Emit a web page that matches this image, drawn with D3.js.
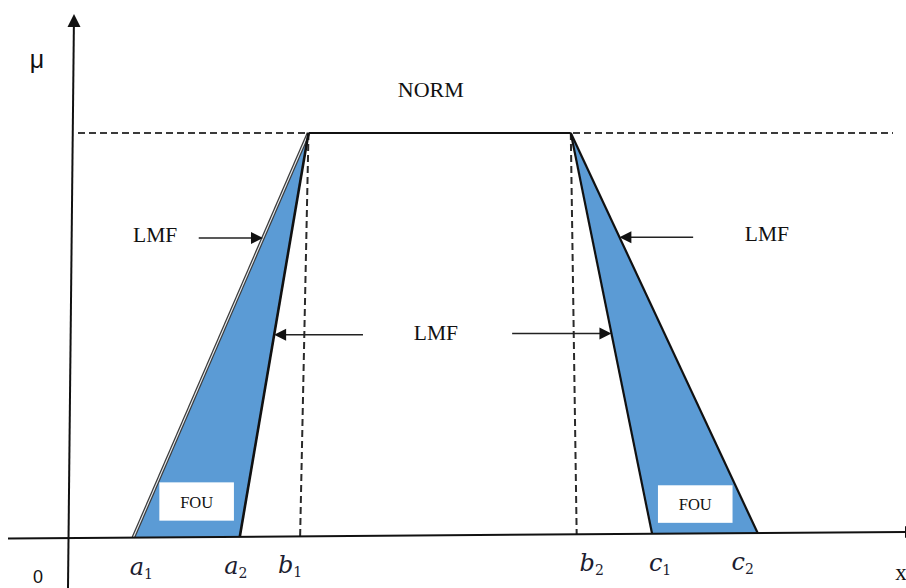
<!DOCTYPE html>
<html>
<head>
<meta charset="utf-8">
<script src="https://cdn.jsdelivr.net/npm/d3@7"></script>
<style>
  html, body { margin: 0; padding: 0; background: #fff; }
  svg { display: block; }
</style>
</head>
<body>
<svg id="chart" width="906" height="588"></svg>
<script>
// Interval type-2 trapezoidal fuzzy number: the shaded regions are the
// footprint of uncertainty (FOU) between the upper and lower membership functions.

// x positions (domain units) where the membership reaches 1 (top of b1 / b2)
const coreTop = [2.87, 6.00];
// where the dashed drop lines from the core meet the x axis (b1, b2)
const coreFoot = [2.77, 6.07];
// support ends of the upper membership function (a1, c2)
const upperFoot = [0.78, 8.23];
// support ends of the lower membership function (a2, c1)
const lowerFoot = [2.05, 6.97];

// axis tick labels
const tickLetters = ["a", "a", "b", "b", "c", "c"];
const tickSubs = ["1", "2", "1", "2", "1", "2"];
const tickValues = [0.78, 2.05, 2.77, 6.07, 6.97, 8.23];

// callout texts and where they sit (x in domain units, height in μ)
const calloutText = ["LMF", "LMF", "LMF"];
const calloutX = [1.04, 4.39, 8.34];
const calloutMu = [0.731, 0.486, 0.731];

// arrows: which edge they point at, at what μ, and where the tail starts
const arrowEdge = ["leftOuter", "leftInner", "rightInner", "rightOuter"];
const arrowMu = [0.74, 0.5, 0.5, 0.74];
const arrowTail = [1.56, 3.52, 5.30, 7.46];

// FOU tag boxes
const fouX0 = [1.09, 7.04];
const fouX1 = [1.98, 7.93];
const fouMu0 = [0.04, 0.026];
const fouMu1 = [0.136, 0.121];

const normText = "NORM";
const normX = 4.33;
const normMu = 1.089;

// ---------------------------------------------------------------------------
const W = 906, H = 588;
const svg = d3.select("#chart");

const xScale = d3.scaleLinear().domain([0, 10]).range([68, 906]);
const yScale = d3.scaleLinear().domain([0, 1]).range([538, 133]);

// the baseline drifts up slightly to the right; the μ = 1 level stays level
const baselineDrop = 6;
const drift = px => -baselineDrop * (px - xScale(0)) / (xScale(10) - xScale(0));
function P(xv, mu) {
  const px = xScale(xv);
  return [px, yScale(mu) + (1 - mu) * drift(px)];
}

const blue = "#5b9bd5";
const ink = "#111";

const edges = {
  leftOuter:  [upperFoot[0], coreTop[0]],
  leftInner:  [lowerFoot[0], coreTop[0]],
  rightInner: [lowerFoot[1], coreTop[1]],
  rightOuter: [upperFoot[1], coreTop[1]]
};
const edgeAt = (name, mu) => {
  const [f, t] = edges[name];
  return f + (t - f) * mu;
};

const line = d3.line();

// --- dashed guides ---------------------------------------------------------
const gGuide = svg.append("g");
gGuide.append("path")
  .attr("d", line([[78, yScale(1)], [893, yScale(1)]]))
  .attr("stroke", "#3a3a3a").attr("stroke-width", 2).attr("stroke-dasharray", "7,4").attr("fill", "none");

coreTop.forEach((c, i) => {
  gGuide.append("path")
    .attr("d", line([P(c, 1), P(coreFoot[i], 0)]))
    .attr("stroke", "#2a2a2a").attr("stroke-width", 2).attr("stroke-dasharray", "7,4").attr("fill", "none");
});

// --- FOU regions -----------------------------------------------------------
const gFou = svg.append("g");
gFou.append("path")
  .attr("d", line([P(upperFoot[0], 0), P(coreTop[0], 1), P(lowerFoot[0], 0)]) + "Z")
  .attr("fill", blue);
gFou.append("path")
  .attr("d", line([P(coreTop[1], 1), P(upperFoot[1], 0), P(lowerFoot[1], 0)]) + "Z")
  .attr("fill", blue);

// left outer edge: a light double stroke
gFou.append("path")
  .attr("d", line([P(upperFoot[0], 0), P(coreTop[0], 1)]))
  .attr("stroke", "#3c3c3c").attr("stroke-width", 3.6).attr("fill", "none");
gFou.append("path")
  .attr("d", line([P(upperFoot[0], 0), P(coreTop[0], 1)]))
  .attr("stroke", "#e8edf2").attr("stroke-width", 1.1).attr("fill", "none");

// remaining edges
[["leftInner", 2.6], ["rightInner", 2.2], ["rightOuter", 2.2]].forEach(([name, w]) => {
  const [f, t] = edges[name];
  gFou.append("path")
    .attr("d", line([P(f, 0), P(t, 1)]))
    .attr("stroke", ink).attr("stroke-width", w).attr("fill", "none");
});

// flat top of the core
gFou.append("path")
  .attr("d", line([P(coreTop[0], 1), P(coreTop[1], 1)]))
  .attr("stroke", ink).attr("stroke-width", 2).attr("fill", "none");

// --- axes ------------------------------------------------------------------
const gAxis = svg.append("g");
// x axis
const xa0 = xScale.invert(8), xa1 = xScale.invert(906);
gAxis.append("path")
  .attr("d", line([P(xa0, 0), P(xa1, 0)]))
  .attr("stroke", ink).attr("stroke-width", 2).attr("fill", "none");
// arrowhead at the right end (runs past the page edge)
{
  const [ex, ey] = P(xa1, 0);
  gAxis.append("path")
    .attr("d", `M${ex - 1},${ey - 6}L${ex + 12},${ey}L${ex - 1},${ey + 6}Z`)
    .attr("fill", ink);
}
// y axis, leaning slightly to the right as it rises
const yTopPx = 14, yBotPx = H;
const lean = py => 6 * (yBotPx - py) / (yBotPx - yTopPx);
const yAxisX = xScale(0);
gAxis.append("path")
  .attr("d", line([[yAxisX + lean(yBotPx), yBotPx], [yAxisX + lean(yTopPx + 10), yTopPx + 10]]))
  .attr("stroke", ink).attr("stroke-width", 2).attr("fill", "none");
{
  const tx = yAxisX + lean(yTopPx);
  gAxis.append("path")
    .attr("d", `M${tx},${yTopPx}L${tx + 6.5},${yTopPx + 13}L${tx - 6.5},${yTopPx + 13}Z`)
    .attr("fill", ink);
}

// axis names
svg.append("text")
  .attr("x", 37).attr("y", 68)
  .attr("text-anchor", "middle")
  .attr("font-family", "Liberation Sans, Arial, sans-serif")
  .attr("font-size", 25).attr("fill", "#111")
  .text("μ");
svg.append("text")
  .attr("x", 38).attr("y", 583)
  .attr("text-anchor", "middle")
  .attr("font-family", "Liberation Sans, Arial, sans-serif")
  .attr("font-size", 18).attr("fill", "#111")
  .text("0");
svg.append("text")
  .attr("x", 901).attr("y", 580)
  .attr("text-anchor", "middle")
  .attr("font-family", "Liberation Serif, Times New Roman, serif")
  .attr("font-size", 23).attr("fill", "#111")
  .text("x");

// tick labels under the axis
const tickNudge = [8, -4, -10, 15, 8, -15];
tickValues.forEach((v, i) => {
  const [px, py] = P(v, 0);
  const t = svg.append("text")
    .attr("x", px + tickNudge[i]).attr("y", py + 37)
    .attr("text-anchor", "middle")
    .attr("font-family", "DejaVu Serif, serif")
    .attr("fill", "#1c1c30");
  t.append("tspan")
    .attr("font-style", "italic").attr("font-size", 24)
    .text(tickLetters[i]);
  t.append("tspan")
    .attr("font-size", 14).attr("dy", 4)
    .text(tickSubs[i]);
});

// --- annotations -----------------------------------------------------------
const serif = "Liberation Serif, Times New Roman, serif";
svg.append("text")
  .attr("x", P(normX, normMu)[0]).attr("y", yScale(normMu))
  .attr("text-anchor", "middle")
  .attr("font-family", serif).attr("font-size", 22).attr("fill", "#111")
  .text(normText);

calloutText.forEach((txt, i) => {
  const [px, py] = P(calloutX[i], calloutMu[i]);
  svg.append("text")
    .attr("x", px).attr("y", py)
    .attr("text-anchor", "middle")
    .attr("font-family", serif).attr("font-size", 21.5).attr("fill", "#111")
    .text(txt);
});

arrowEdge.forEach((name, i) => {
  const [tx, ty] = P(edgeAt(name, arrowMu[i]), arrowMu[i]);
  const sx = xScale(arrowTail[i]);
  const dir = sx > tx ? 1 : -1; // tail side relative to the tip
  svg.append("path")
    .attr("d", line([[sx, ty], [tx + dir * 9, ty]]))
    .attr("stroke", "#222").attr("stroke-width", 1.6).attr("fill", "none");
  svg.append("path")
    .attr("d", `M${tx},${ty}L${tx + dir * 12},${ty - 6}L${tx + dir * 12},${ty + 6}Z`)
    .attr("fill", "#111");
});

// FOU tags
fouX0.forEach((x0, i) => {
  const [p0x, p0y] = P(x0, fouMu1[i]);
  const [p1x, p1y] = P(fouX1[i], fouMu0[i]);
  svg.append("rect")
    .attr("x", p0x).attr("y", p0y)
    .attr("width", p1x - p0x).attr("height", p1y - p0y)
    .attr("fill", "#fff");
  svg.append("text")
    .attr("x", (p0x + p1x) / 2).attr("y", (p0y + p1y) / 2 + 6)
    .attr("text-anchor", "middle")
    .attr("font-family", serif).attr("font-size", 16.5).attr("fill", "#111")
    .text("FOU");
});
</script>
</body>
</html>
